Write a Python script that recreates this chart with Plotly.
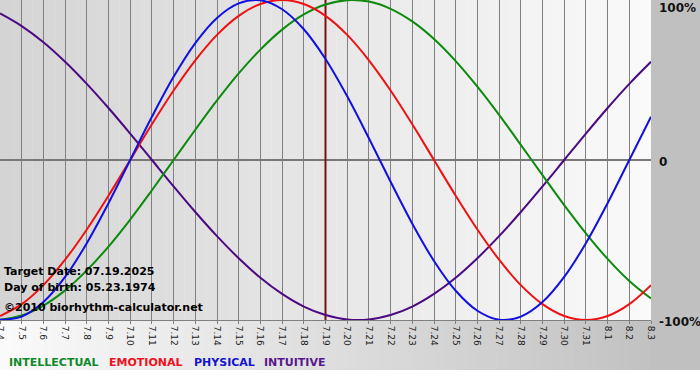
import plotly.graph_objects as go

# ---- data ----
dates = ["7.4", "7.5", "7.6", "7.7", "7.8", "7.9", "7.10", "7.11", "7.12", "7.13",
         "7.14", "7.15", "7.16", "7.17", "7.18", "7.19", "7.20", "7.21", "7.22", "7.23",
         "7.24", "7.25", "7.26", "7.27", "7.28", "7.29", "7.30", "7.31", "8.1", "8.2", "8.3"]

physical = [-0.998, -0.979, -0.888, -0.731, -0.520, -0.270, 0.000, 0.270, 0.520, 0.731,
            0.888, 0.979, 0.998, 0.942, 0.817, 0.631, 0.398, 0.136, -0.136, -0.398,
            -0.631, -0.817, -0.942, -0.998, -0.979, -0.888, -0.731, -0.520, -0.270, 0.000, 0.270]

emotional = [-0.975, -0.901, -0.782, -0.623, -0.434, -0.223, 0.000, 0.223, 0.434, 0.623,
             0.782, 0.901, 0.975, 1.000, 0.975, 0.901, 0.782, 0.623, 0.434, 0.223,
             0.000, -0.223, -0.434, -0.623, -0.782, -0.901, -0.975, -1.000, -0.975, -0.901, -0.782]

intellectual = [-0.999, -0.972, -0.910, -0.815, -0.690, -0.541, -0.372, -0.189, 0.000, 0.189,
                0.372, 0.541, 0.690, 0.815, 0.910, 0.972, 0.999, 0.990, 0.945, 0.866,
                0.756, 0.618, 0.458, 0.282, 0.095, -0.095, -0.282, -0.458, -0.618, -0.756, -0.866]

intuitive = [0.916, 0.837, 0.736, 0.614, 0.476, 0.325, 0.165, 0.000, -0.165, -0.325,
             -0.476, -0.614, -0.736, -0.837, -0.916, -0.969, -0.997, -0.997, -0.969, -0.916,
             -0.837, -0.736, -0.614, -0.476, -0.325, -0.165, 0.000, 0.165, 0.325, 0.476, 0.614]

target_label = "7.19"
info_lines = ["Target Date: 07.19.2025", "Day of birth: 05.23.1974", "\u00a92010 biorhythm-calculator.net"]
legend_names = ["INTELLECTUAL", "EMOTIONAL", "PHYSICAL", "INTUITIVE"]
y_tick_text = ["100%", "0", "-100%"]

# ---- geometry / style ----
W, H = 700, 380
PL, PR, PT, PB = 0, 651, 0, 320   # plot area in pixels
pw, ph = PR - PL, PB - PT


def px(x):
    return (x - PL) / pw


def py(y):
    return 1 - (y - PT) / ph


line_colors = {"INTELLECTUAL": "#0b8a0b", "EMOTIONAL": "#ee1111",
               "PHYSICAL": "#1010e0", "INTUITIVE": "#4b0a82"}
text_colors = {"INTELLECTUAL": "#0f8a2a", "EMOTIONAL": "#ee1122",
               "PHYSICAL": "#1414cc", "INTUITIVE": "#56188c"}

xs = list(range(len(dates)))
fig = go.Figure()
series = {"INTELLECTUAL": intellectual, "EMOTIONAL": emotional,
          "PHYSICAL": physical, "INTUITIVE": intuitive}
for name in ["INTUITIVE", "INTELLECTUAL", "EMOTIONAL", "PHYSICAL"]:
    fig.add_trace(go.Scatter(x=xs, y=series[name], mode="lines", name=name,
                             line=dict(color=line_colors[name], width=2, shape="spline", smoothing=1),
                             hoverinfo="skip", showlegend=False))

shapes = []
# plot-area gradient (darker left -> light right)
N = 60
nx = len(dates) - 1
for i in range(N):
    t = (i + 0.5) / N
    c = int(round(212 + (250 - 212) * t))
    shapes.append(dict(type="rect", xref="x", yref="y", x0=nx * i / N, x1=nx * (i + 1) / N + 0.01,
                       y0=-1.05, y1=1.05, fillcolor=f"rgb({c},{c},{c})", line=dict(width=0), layer="below"))
# bottom band gradient (light left -> gray right)
for i in range(N):
    t = (i + 0.5) / N
    c = int(round(250 + (194 - 250) * t))
    shapes.append(dict(type="rect", xref="paper", yref="paper", x0=i / N, x1=(i + 1) / N + 0.002,
                       y0=py(370), y1=0, fillcolor=f"rgb({c},{c},{c})", line=dict(width=0), layer="below"))
# right panel
shapes.append(dict(type="rect", xref="paper", yref="paper", x0=1, x1=px(W + 2), y0=py(370), y1=1,
                   fillcolor="#c0c0c0", line=dict(width=0), layer="below"))
# target date line
ti = dates.index(target_label)
shapes.append(dict(type="line", xref="x", yref="y", x0=ti, x1=ti, y0=-1, y1=1,
                   line=dict(color="#7a1010", width=2), layer="between"))

annotations = []
info_y = [271.5, 287.5, 307.5]
for txt, yy in zip(info_lines, info_y):
    annotations.append(dict(text=txt, xref="paper", yref="paper", x=px(2), y=py(yy),
                            xanchor="left", yanchor="middle", showarrow=False,
                            font=dict(family="DejaVu Sans", size=11, color="#000000", weight="bold")))
leg_x = [7, 107, 192, 262]
for name, lx in zip(legend_names, leg_x):
    annotations.append(dict(text=name, xref="paper", yref="paper", x=px(lx), y=py(362.5),
                            xanchor="left", yanchor="middle", showarrow=False,
                            font=dict(family="DejaVu Sans", size=11, color=text_colors[name], weight="bold")))
for txt, yy in zip(y_tick_text, [7.5, 161.5, 321.5]):
    annotations.append(dict(text=txt, xref="paper", yref="paper", x=px(657), y=py(yy),
                            xanchor="left", yanchor="middle", showarrow=False,
                            font=dict(family="DejaVu Sans", size=12, color="#111111", weight="bold")))

fig.update_layout(
    width=W, height=H,
    margin=dict(l=PL, r=W - PR, t=PT, b=H - PB, pad=0, autoexpand=False),
    paper_bgcolor="#ffffff", plot_bgcolor="rgba(0,0,0,0)",
    shapes=shapes, annotations=annotations, hovermode=False, showlegend=False,
    xaxis=dict(range=[0, nx], tickmode="array", tickvals=xs, ticktext=dates, tickangle=90,
               showgrid=True, gridcolor="#808080", gridwidth=1,
               ticks="outside", ticklen=3, tickcolor="#808080", tickwidth=1,
               showline=True, linecolor="#808080", linewidth=1, mirror=True,
               zeroline=False, fixedrange=True, ticklabeloverflow="allow", automargin=False,
               tickfont=dict(family="DejaVu Sans", size=9, color="#1a1a1a")),
    yaxis=dict(range=[-1, 1], showgrid=False, showticklabels=False, ticks="",
               zeroline=True, zerolinecolor="#787878", zerolinewidth=2,
               showline=False, fixedrange=True, automargin=False),
)

fig.write_html("out.html", config={"displayModeBar": False},
               post_script="document.body.style.margin='0';document.body.style.overflow='hidden';")
